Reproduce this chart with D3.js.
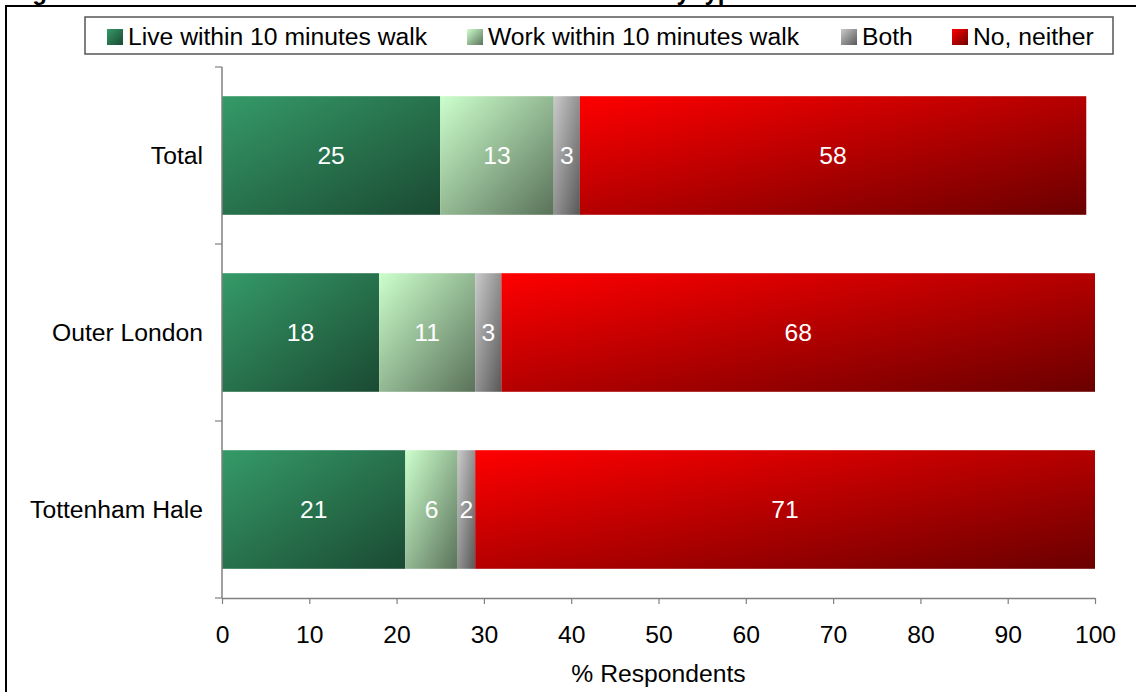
<!DOCTYPE html>
<html>
<head>
<meta charset="utf-8">
<script src="https://cdn.jsdelivr.net/npm/d3@7"></script>
<style>
  html, body { margin: 0; padding: 0; background: #fff; }
  svg { display: block; font-family: "Liberation Sans", Arial, sans-serif; }
</style>
</head>
<body>
<svg id="chart" width="1136" height="692"></svg>
<script>
// ---- data ----
const categories = ["Total", "Outer London", "Tottenham Hale"];
const seriesNames = ["Live within 10 minutes walk", "Work within 10 minutes walk", "Both", "No, neither"];
const liveValues = [25, 18, 21];
const workValues = [13, 11, 6];
const bothValues = [3, 3, 2];
const neitherValues = [58, 68, 71];
const xTicks = [0, 10, 20, 30, 40, 50, 60, 70, 80, 90, 100];
const titleText = "Figure 3.10: Whether live or work within 10 minutes walk by type of centre";
const xTitle = "% Respondents";

const seriesKeys = ["live", "work", "both", "neither"];
const gradStops = {
  live: ["#359a68", "#1a4a32"],
  work: ["#ccffcc", "#5a725a"],
  both: ["#cacaca", "#585858"],
  neither: ["#ff0000", "#6a0000"]
};

const rows = categories.map((c, i) => ({
  category: c, live: liveValues[i], work: workValues[i], both: bothValues[i], neither: neitherValues[i]
}));

const FS = 24.7;
const svg = d3.select("#chart");
const defs = svg.append("defs");
seriesKeys.forEach(k => {
  const g = defs.append("linearGradient").attr("id", "grad-" + k)
    .attr("x1", 0).attr("y1", 0).attr("x2", 1).attr("y2", 1);
  g.append("stop").attr("offset", "0%").attr("stop-color", gradStops[k][0]);
  g.append("stop").attr("offset", "100%").attr("stop-color", gradStops[k][1]);
});

// frame
svg.append("rect").attr("x", 6).attr("y", 6).attr("width", 1300).attr("height", 900)
  .attr("fill", "none").attr("stroke", "#000").attr("stroke-width", 2);

// clipped title (top cut off as in reference)
svg.append("text").attr("x", 11).attr("y", 0)
  .attr("font-size", 24).attr("font-weight", "bold").attr("fill", "#000")
  .text(titleText);

// scales
const x = d3.scaleLinear().domain([0, 100]).range([222, 1095]);
const y = d3.scaleBand().domain(categories).range([67, 598]).paddingInner(0.33).paddingOuter(0.165);

const stacked = d3.stack().keys(seriesKeys)(rows);

// bars
const layer = svg.append("g").selectAll("g").data(stacked).join("g")
  .attr("fill", d => "url(#grad-" + d.key + ")");
layer.selectAll("rect").data(d => d).join("rect")
  .attr("x", d => x(d[0]))
  .attr("y", d => y(d.data.category))
  .attr("width", d => x(d[1]) - x(d[0]))
  .attr("height", y.bandwidth());

// data labels
const lbl = svg.append("g");
stacked.forEach(s => {
  s.forEach(d => {
    lbl.append("text")
      .attr("x", (x(d[0]) + x(d[1])) / 2)
      .attr("y", y(d.data.category) + y.bandwidth() / 2)
      .attr("dy", "0.35em")
      .attr("text-anchor", "middle")
      .attr("font-size", FS)
      .attr("fill", "#fff")
      .text(d[1] - d[0]);
  });
});

// x axis
const xAxis = svg.append("g").attr("transform", "translate(0,598)")
  .call(d3.axisBottom(x).tickValues(xTicks).tickSize(6).tickPadding(21).tickSizeOuter(0));
xAxis.select(".domain").attr("stroke", "#808080").attr("stroke-width", 1.5);
xAxis.selectAll(".tick line").attr("stroke", "#808080").attr("stroke-width", 1.2);
xAxis.selectAll(".tick text").attr("font-size", FS).attr("fill", "#000")
  .attr("font-family", "Liberation Sans, Arial, sans-serif");

// y axis line and ticks at band boundaries
const step = y.step();
const yb = categories.map(c => y(c) - step * y.paddingInner() / 2);
yb.push(y(categories[categories.length - 1]) + y.bandwidth() + step * y.paddingInner() / 2);
svg.append("line").attr("x1", 222).attr("x2", 222).attr("y1", yb[0]).attr("y2", 598)
  .attr("stroke", "#808080").attr("stroke-width", 1.5);
svg.append("g").selectAll("line").data(yb).join("line")
  .attr("x1", 215).attr("x2", 222).attr("y1", d => d).attr("y2", d => d)
  .attr("stroke", "#808080").attr("stroke-width", 1.2);

// category labels
svg.append("g").selectAll("text").data(categories).join("text")
  .attr("x", 203)
  .attr("y", d => y(d) + y.bandwidth() / 2)
  .attr("dy", "0.35em")
  .attr("text-anchor", "end")
  .attr("font-size", FS)
  .attr("fill", "#000")
  .text(d => d);

// x title
svg.append("text").attr("x", (x(0) + x(100)) / 2).attr("y", 682)
  .attr("text-anchor", "middle").attr("font-size", FS).attr("fill", "#000").text(xTitle);

// legend
svg.append("rect").attr("x", 85).attr("y", 17).attr("width", 1028).attr("height", 37)
  .attr("fill", "#fff").attr("stroke", "#555").attr("stroke-width", 1.5);
const legendX = [107, 467, 841, 952];
const leg = svg.append("g").selectAll("g").data(seriesKeys).join("g")
  .attr("transform", (d, i) => `translate(${legendX[i]},0)`);
leg.append("rect").attr("x", 0).attr("y", 29).attr("width", 16).attr("height", 16)
  .attr("fill", d => "url(#grad-" + d + ")");
leg.append("text").attr("x", 21).attr("y", 45)
  .attr("font-size", FS).attr("fill", "#000").text((d, i) => seriesNames[i]);
</script>
</body>
</html>
